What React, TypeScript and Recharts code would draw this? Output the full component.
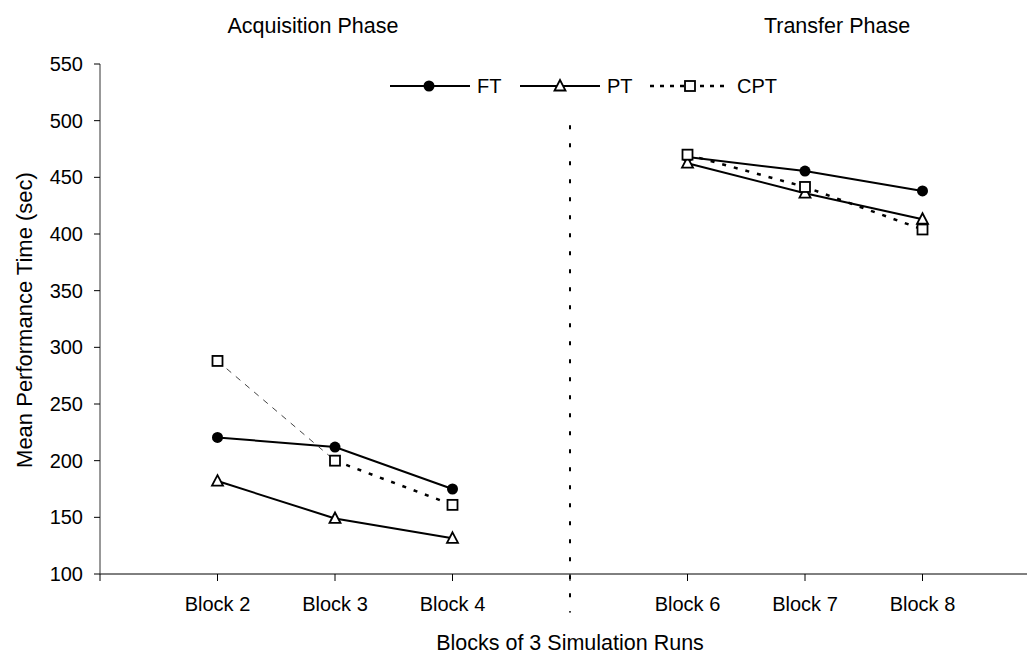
import React from 'react';
import { LineChart, Line, XAxis, YAxis, ReferenceLine } from 'recharts';

const blocks = ['Block 2', 'Block 3', 'Block 4', '', 'Block 6', 'Block 7', 'Block 8'];
const ft = [220.5, 212, 175, null, 468, 455.5, 438];
const pt = [182, 149, 131.5, null, 462.5, 436, 413];
const cpt = [288, 200, 161, null, 470, 441.5, 404];
const yTicks = [100, 150, 200, 250, 300, 350, 400, 450, 500, 550];
const xTicks = [0, 1, 2, 3, 4, 5, 6, 7, 8];

const FONT = '"Liberation Sans", Arial, sans-serif';

// the CPT line is thin dashed from Block 2 to 3, dotted after that
const rows = blocks.map((b, i) => ({
  x: i + 1,
  ft: ft[i],
  pt: pt[i],
  cpt: cpt[i],
  cptA: i <= 1 ? cpt[i] : null,
  cptB: i >= 1 ? cpt[i] : null,
}));

const Circle = (props: any) => {
  const { cx, cy, index } = props;
  if (cx == null || cy == null) return <g key={`c-${index}`} />;
  return <circle key={`c-${index}`} cx={cx} cy={cy} r={5.5} fill="#000" />;
};

const Triangle = (props: any) => {
  const { cx, cy, index } = props;
  if (cx == null || cy == null) return <g key={`t-${index}`} />;
  const p = `${cx},${cy - 6} ${cx + 5.5},${cy + 4.5} ${cx - 5.5},${cy + 4.5}`;
  return <polygon key={`t-${index}`} points={p} fill="#fff" stroke="#000" strokeWidth={1.8} />;
};

const Square = (props: any) => {
  const { cx, cy, index } = props;
  if (cx == null || cy == null) return <g key={`s-${index}`} />;
  return <rect key={`s-${index}`} x={cx - 5} y={cy - 5} width={10} height={10} fill="#fff" stroke="#000" strokeWidth={1.8} />;
};

const Overlay = () => (
  <svg width={1027} height={655} style={{ position: 'absolute', left: 0, top: 0, pointerEvents: 'none' }}>
    <g fontFamily={FONT} fill="#000">
      <text x={313} y={26} fontSize={21.5} textAnchor="middle" dominantBaseline="central">Acquisition Phase</text>
      <text x={837} y={26} fontSize={21.5} textAnchor="middle" dominantBaseline="central">Transfer Phase</text>
      <text x={570} y={643} fontSize={21.5} textAnchor="middle" dominantBaseline="central">Blocks of 3 Simulation Runs</text>
      <text x={0} y={0} fontSize={22} textAnchor="middle" dominantBaseline="central" transform="translate(24,320) rotate(-90)">
        Mean Performance Time (sec)
      </text>
    </g>
    {/* legend */}
    <g stroke="#000" strokeWidth={2}>
      <line x1={390} y1={86} x2={470} y2={86} />
      <line x1={520} y1={86} x2={600} y2={86} />
      <line x1={650} y1={86} x2={730} y2={86} strokeDasharray="4 6" strokeWidth={2.5} />
    </g>
    <Circle cx={429} cy={86} index="l" />
    <Triangle cx={560} cy={86} index="l" />
    <Square cx={690} cy={86} index="l" />
    <g fontFamily={FONT} fontSize={20} fill="#000">
      <text x={477} y={86} dominantBaseline="central">FT</text>
      <text x={607} y={86} dominantBaseline="central">PT</text>
      <text x={737} y={86} dominantBaseline="central">CPT</text>
    </g>
  </svg>
);

export default function App() {
  const tickStyle = { fontSize: 20, fontFamily: FONT, fill: '#000' };
  return (
    <div style={{ position: 'fixed', left: 0, top: 0, width: 1027, height: 655, overflow: 'hidden', background: '#fff' }}>
      <LineChart width={1060} height={655} data={rows} margin={{ top: 64, right: 20, left: 40, bottom: 41 }}>
        <XAxis
          type="number"
          dataKey="x"
          domain={[0, 8]}
          ticks={xTicks}
          interval={0}
          height={40}
          tickSize={7}
          tickMargin={16}
          tick={tickStyle}
          tickFormatter={(v: number) => blocks[v - 1] ?? ''}
          stroke="#000"
          tickLine={{ stroke: '#000' }}
        />
        <YAxis
          type="number"
          domain={[100, 550]}
          ticks={yTicks}
          interval={0}
          width={60}
          tickSize={6}
          tickMargin={11}
          tick={tickStyle}
          stroke="#333"
          tickLine={{ stroke: '#000' }}
        />
        <ReferenceLine
          segment={[{ x: 4, y: 496 }, { x: 4, y: 66 }]}
          ifOverflow="visible"
          stroke="#000"
          strokeWidth={2}
          strokeDasharray="4 14"
        />
        <Line dataKey="ft" stroke="#000" strokeWidth={2} dot={Circle} activeDot={false} isAnimationActive={false} />
        <Line dataKey="pt" stroke="#000" strokeWidth={2} dot={Triangle} activeDot={false} isAnimationActive={false} />
        <Line dataKey="cptA" stroke="#444" strokeWidth={1} strokeDasharray="6 6" dot={false} activeDot={false} isAnimationActive={false} />
        <Line dataKey="cptB" stroke="#000" strokeWidth={2.5} strokeDasharray="4 8" dot={false} activeDot={false} isAnimationActive={false} />
        <Line dataKey="cpt" stroke="none" dot={Square} activeDot={false} isAnimationActive={false} />
      </LineChart>
      <Overlay />
    </div>
  );
}
